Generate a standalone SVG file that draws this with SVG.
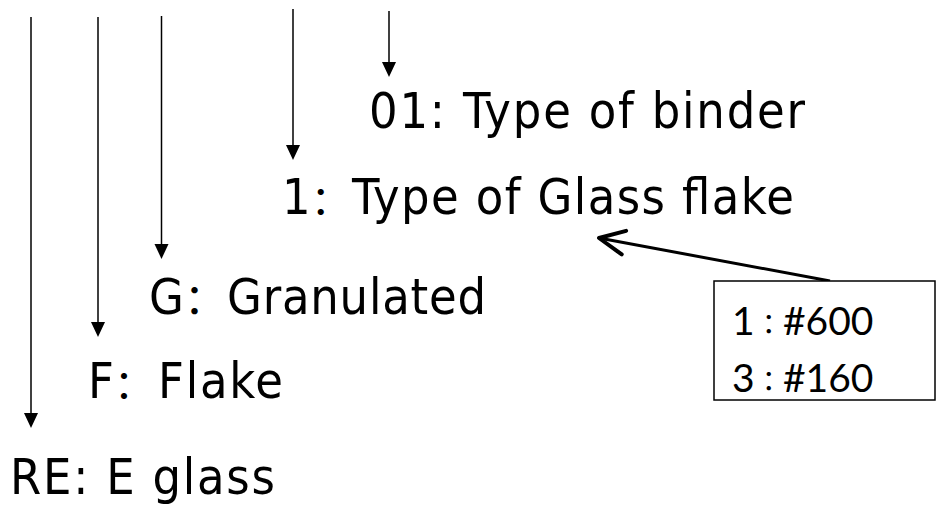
<svg xmlns="http://www.w3.org/2000/svg" width="936" height="505" viewBox="0 0 936 505">
<style>
.lbl{font-family:"DejaVu Sans Condensed","DejaVu Sans",sans-serif;font-stretch:condensed;font-size:50px;fill:#000}
.cs{font-family:"Noto Sans CJK SC",sans-serif;font-stretch:normal}
.cj{font-family:"Noto Sans CJK JP",sans-serif;font-stretch:normal}
.box{fill:#fff;stroke:#000;stroke-width:1.5}
.bt{font-family:Lato,"Open Sans",sans-serif;font-size:39px;fill:#000}
.v{stroke:#000;stroke-width:1.5;fill:none;marker-end:url(#tri)}
.ptr{stroke:#000;stroke-width:3;fill:none;marker-end:url(#open)}
</style>
<defs>
<marker id="tri" markerUnits="userSpaceOnUse" markerWidth="30" markerHeight="30" viewBox="-10 -10 30 20" refX="0" refY="0" orient="auto" overflow="visible">
<path d="M10,0 L-5,-7 L-5,7 Z" fill="#000"/>
</marker>
<marker id="open" markerUnits="userSpaceOnUse" markerWidth="40" markerHeight="40" viewBox="-25 -15 30 30" refX="0" refY="0" orient="auto" overflow="visible">
<path d="M-19,-9 L0,0 L-19,9" fill="none" stroke="#000" stroke-width="3" stroke-linecap="round" stroke-linejoin="round"/>
</marker>
</defs>
<rect width="936" height="505" fill="#fff"/>
<g id="connectors">
<line class="v" x1="31" y1="17" x2="31" y2="418"/>
<line class="v" x1="98" y1="17" x2="98" y2="327"/>
<line class="v" x1="161.5" y1="16" x2="161.5" y2="249"/>
<line class="v" x1="293" y1="9" x2="293" y2="150"/>
<line class="v" x1="389" y1="11" x2="389" y2="67"/>
<line class="ptr" x1="830" y1="281" x2="599" y2="238"/>
</g>
<g id="binder">
<text class="lbl" x="369" y="128" textLength="436" lengthAdjust="spacing">01: Type of binder</text>
</g>
<g id="glassflake">
<text class="lbl" y="214"><tspan x="282">1</tspan><tspan class="cs" font-size="40">：</tspan><tspan x="352" textLength="442" lengthAdjust="spacing">Type of Glass flake</tspan></text>
</g>
<g id="granulated">
<text class="lbl" y="314"><tspan x="149">G</tspan><tspan class="cs" font-size="42">：</tspan><tspan x="227" textLength="259" lengthAdjust="spacing">Granulated</tspan></text>
</g>
<g id="flake">
<text class="lbl" y="398"><tspan x="88">F</tspan><tspan class="cs" font-size="40">：</tspan><tspan x="158" textLength="125" lengthAdjust="spacing">Flake</tspan></text>
</g>
<g id="eglass">
<text class="lbl" x="10" y="494" textLength="265" lengthAdjust="spacing">RE: E glass</text>
</g>
<g id="sizes">
<rect class="box" x="714" y="281" width="221" height="119"/>
<text class="bt" y="335"><tspan x="732">1</tspan><tspan class="cj" font-size="28">：</tspan><tspan x="783">#600</tspan></text>
<text class="bt" y="392"><tspan x="732">3</tspan><tspan class="cj" font-size="28">：</tspan><tspan x="783">#160</tspan></text>
</g>
</svg>
